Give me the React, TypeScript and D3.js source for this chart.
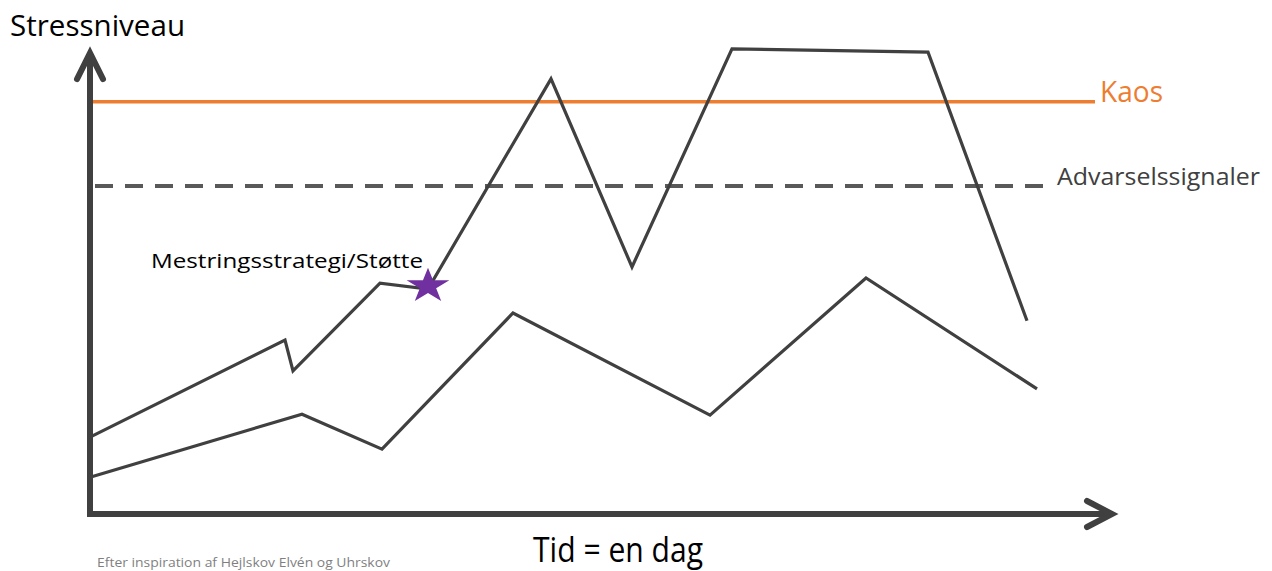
import React from "react";
import * as d3 from "d3";

// Time (0–100 across the day) and stress level (0–100)
const upperTime = [0, 19.5, 20.3, 29.0, 33.8, 46.1, 54.2, 64.2, 83.8, 93.7];
const upperStress = [16.7, 37.8, 31.1, 50.2, 48.9, 94.6, 53.7, 101.1, 100.4, 42.0];
const lowerTime = [0, 21.2, 29.2, 42.3, 62.0, 77.6, 94.7];
const lowerStress = [8.0, 21.7, 14.1, 43.7, 21.5, 51.3, 27.2];
const starIndex = [4];
const kaosLevel = [89.6];
const warningLevel = [71.3];
const labels = ["Stressniveau", "Tid = en dag", "Kaos", "Advarselssignaler", "Mestringsstrategi/Støtte", "Efter inspiration af Hejlskov Elvén og Uhrskov"];

const W = 1272;
const H = 571;
const FONT = "'Open Sans', Lato, sans-serif";

export default function App() {
  const x = d3.scaleLinear().domain([0, 100]).range([90, 1090]);
  const y = d3.scaleLinear().domain([0, 100]).range([514, 54]);
  const line = d3
    .line<[number, number]>()
    .x((d) => x(d[0]))
    .y((d) => y(d[1]));
  const upper: [number, number][] = upperTime.map((t, i) => [t, upperStress[i]]);
  const lower: [number, number][] = lowerTime.map((t, i) => [t, lowerStress[i]]);
  const starPath = d3.symbol().type(d3.symbolStar).size(380)() as string;
  const sp = upper[starIndex[0]];
  const axisColor = "#404040";
  const x0 = x(0);
  const yBase = y(0);
  const yTip = y(100.2);
  const xTip = x(102.2);

  return (
    <svg width={W} height={H} style={{ position: "absolute", left: 0, top: 0, background: "#fff" }}>
      {/* Kaos line */}
      <line x1={x(0.3)} x2={x(100.5)} y1={y(kaosLevel[0])} y2={y(kaosLevel[0])} stroke="#ED7D31" strokeWidth={3.5} />
      {/* Warning dashed line */}
      <line
        x1={x(0.5)}
        x2={x(95.6)}
        y1={y(warningLevel[0])}
        y2={y(warningLevel[0])}
        stroke="#595959"
        strokeWidth={4}
        strokeDasharray="18 12"
      />
      {/* Data lines */}
      <path d={line(lower) || ""} fill="none" stroke={axisColor} strokeWidth={3.2} strokeLinejoin="miter" />
      <path d={line(upper) || ""} fill="none" stroke={axisColor} strokeWidth={3.2} strokeLinejoin="miter" />
      {/* Star */}
      <path d={starPath} transform={`translate(${x(sp[0])},${y(sp[1]) - 3}) scale(1.22,1)`} fill="#7030A0" />
      {/* Axes */}
      <line x1={x0} x2={x0} y1={yBase + 3} y2={yTip + 2} stroke={axisColor} strokeWidth={6} />
      <line x1={x0 - 3} x2={xTip - 2} y1={yBase} y2={yBase} stroke={axisColor} strokeWidth={6} />
      <polyline
        points={`${x0 - 13},${yTip + 26} ${x0},${yTip} ${x0 + 13},${yTip + 26}`}
        fill="none"
        stroke={axisColor}
        strokeWidth={6}
        strokeLinecap="round"
        strokeLinejoin="miter"
      />
      <polyline
        points={`${xTip - 25},${yBase - 13} ${xTip},${yBase} ${xTip - 25},${yBase + 13}`}
        fill="none"
        stroke={axisColor}
        strokeWidth={6}
        strokeLinecap="round"
        strokeLinejoin="miter"
      />
      {/* Texts */}
      <text x={10} y={36} fontFamily={FONT} fontSize={29} fill="#000" textLength={175} lengthAdjust="spacingAndGlyphs">
        {labels[0]}
      </text>
      <text x={533} y={562} fontFamily={FONT} fontSize={34} fill="#000" textLength={170} lengthAdjust="spacingAndGlyphs">
        {labels[1]}
      </text>
      <text x={1100} y={102} fontFamily={FONT} fontSize={30} fill="#ED7D31" textLength={63} lengthAdjust="spacingAndGlyphs">
        {labels[2]}
      </text>
      <text x={1057} y={185} fontFamily={FONT} fontSize={24} fill="#404040" textLength={203} lengthAdjust="spacingAndGlyphs">
        {labels[3]}
      </text>
      <text x={151} y={268} fontFamily={FONT} fontSize={20} fill="#000" textLength={272} lengthAdjust="spacingAndGlyphs">
        {labels[4]}
      </text>
      <text x={97} y={567} fontFamily={FONT} fontSize={12} fill="#7f7f7f" textLength={293} lengthAdjust="spacingAndGlyphs">
        {labels[5]}
      </text>
    </svg>
  );
}
